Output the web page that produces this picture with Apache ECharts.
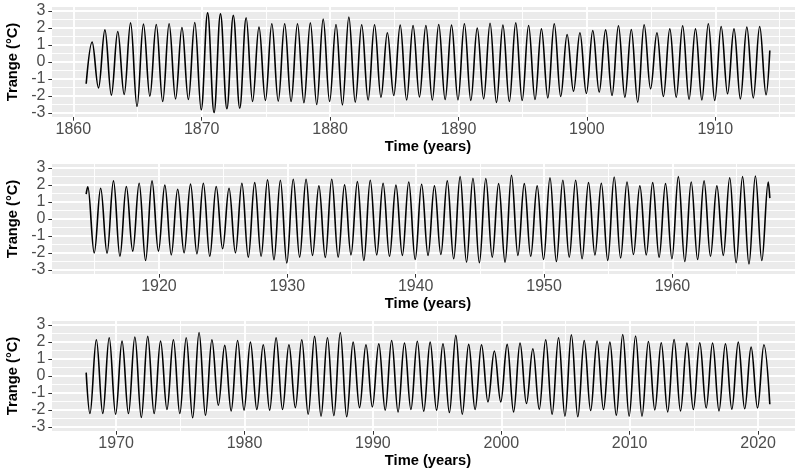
<!DOCTYPE html>
<html>
<head>
<meta charset="utf-8">
<script src="https://cdn.jsdelivr.net/npm/echarts@6/dist/echarts.min.js"></script>
<style>
  html, body { margin: 0; padding: 0; background: #ffffff; }
  #chart { width: 795px; height: 472px; }
</style>
</head>
<body>
<div id="chart"></div>
<script>
// Seasonal cycle of the temperature range: yearly maximum and minimum of the cycle.
const FIRST_YEAR = 1861;
// Fraction of the year at which the seasonal maximum / minimum occurs
const PEAK_PHASE = 0.46;
const TROUGH_PHASE = 0.96;

// Seasonal maxima, 1861-2020 (°C)
const peaks = [
  1.17, 1.89, 1.79, 2.30, 2.23, 2.21, 2.25, 2.03, 2.32, 2.89,
  2.83, 2.74, 2.60, 2.05, 2.25, 2.25, 2.25, 2.30, 2.52, 2.21,
  2.64, 2.19, 2.19, 1.72, 2.17, 2.15, 2.15, 2.21, 2.17, 2.25,
  1.99, 2.28, 2.17, 2.30, 2.15, 1.95, 2.25, 1.62, 1.72, 1.85,
  1.89, 2.13, 1.91, 2.19, 1.72, 1.95, 2.13, 1.95, 2.25, 2.09,
  1.95, 2.05, 2.09, 1.89, 1.81, 2.24, 1.91, 2.10, 2.24, 1.99,
  1.75, 2.05, 2.10, 1.91, 1.81, 2.10, 2.14, 2.30, 2.28, 2.34,
  2.34, 1.95, 2.34, 2.01, 2.20, 2.28, 2.10, 1.99, 2.18, 2.04,
  1.95, 2.24, 2.49, 2.40, 2.38, 2.08, 2.57, 2.08, 1.95, 2.43,
  2.28, 2.28, 2.14, 2.10, 2.47, 2.18, 1.95, 2.14, 2.08, 2.49,
  2.18, 2.24, 1.95, 2.43, 2.49, 2.53, 2.18, 2.13, 2.25, 2.05,
  2.29, 2.33, 2.05, 2.13, 2.25, 2.56, 2.13, 1.80, 2.09, 1.99,
  1.84, 2.25, 1.84, 2.13, 2.33, 2.25, 2.56, 1.99, 1.84, 1.90,
  2.09, 1.94, 2.04, 1.99, 1.90, 2.39, 1.86, 1.84, 1.47, 1.86,
  1.94, 1.60, 2.13, 2.25, 2.43, 2.09, 2.05, 1.99, 2.44, 2.35,
  2.03, 1.96, 2.15, 1.94, 1.96, 1.94, 1.90, 1.99, 1.70, 1.84
];

// Seasonal minima at the turn of each year, 1861/62 - 2019/20 (°C)
const troughs = [
  -1.52, -1.95, -1.91, -2.62, -2.01, -2.32, -2.17, -2.21, -2.81, -2.97,
  -2.75, -2.72, -2.32, -2.26, -2.30, -2.32, -2.40, -2.50, -2.32, -2.52,
  -2.36, -2.23, -2.07, -1.97, -2.23, -2.05, -2.23, -2.21, -2.23, -2.26,
  -2.17, -2.38, -2.32, -2.26, -2.21, -2.11, -2.03, -1.72, -1.85, -1.77,
  -1.97, -2.07, -2.36, -1.58, -2.03, -2.07, -2.19, -2.23, -2.26, -1.87,
  -2.17, -2.11, -1.93, -1.99, -2.01, -2.19, -1.89, -2.44, -1.89, -2.11,
  -1.99, -2.05, -2.19, -1.75, -1.99, -2.24, -2.19, -2.40, -2.59, -2.24,
  -2.14, -2.26, -2.24, -2.11, -2.44, -2.11, -2.19, -2.14, -2.38, -2.14,
  -2.09, -2.34, -2.54, -2.57, -2.24, -2.54, -2.14, -2.19, -2.38, -2.50,
  -2.24, -2.34, -2.12, -2.44, -2.29, -2.09, -2.11, -2.24, -2.34, -2.50,
  -2.38, -2.19, -2.14, -2.57, -2.65, -2.44, -2.21, -2.21, -2.25, -2.21,
  -2.44, -2.21, -1.97, -2.21, -2.46, -2.31, -1.72, -2.05, -2.01, -1.97,
  -2.01, -1.97, -1.86, -2.25, -2.36, -2.33, -2.40, -1.86, -1.82, -2.01,
  -2.11, -1.97, -2.07, -2.01, -2.15, -2.25, -1.97, -1.52, -1.52, -2.11,
  -1.62, -1.95, -2.25, -2.36, -2.40, -2.03, -1.97, -2.31, -2.36, -2.36,
  -1.99, -2.11, -2.05, -1.97, -1.88, -2.05, -1.95, -1.93, -1.88
];

// The record is split into three panels; first and last month of each
const panelStart = [1861.0, 1914.333, 1967.667];
const panelEnd = [1914.25, 1967.583, 2020.917];
const startValues = [-1.28, 1.46, 0.20];
const endValues = [0.68, 1.23, -1.66];

// Tick values
const xMajorTicks = [
  [1860, 1870, 1880, 1890, 1900, 1910],
  [1920, 1930, 1940, 1950, 1960],
  [1970, 1980, 1990, 2000, 2010, 2020]
];
const xMinorTicks = [
  [1865, 1875, 1885, 1895, 1905, 1915],
  [1915, 1925, 1935, 1945, 1955, 1965],
  [1975, 1985, 1995, 2005, 2015]
];
const yMajorTicks = [-3, -2, -1, 0, 1, 2, 3];
const yMinorTicks = [-2.5, -1.5, -0.5, 0.5, 1.5, 2.5];

const xTitle = 'Time (years)';
const yTitle = 'Trange (°C)';

// ---- build ----
const extremes = [];
peaks.forEach((v, i) => extremes.push([FIRST_YEAR + i + PEAK_PHASE, v]));
troughs.forEach((v, i) => extremes.push([FIRST_YEAR + i + TROUGH_PHASE, v]));
extremes.sort((a, b) => a[0] - b[0]);

function panelData(p) {
  const pts = [[panelStart[p], startValues[p]]];
  extremes.forEach(d => {
    if (d[0] > panelStart[p] && d[0] < panelEnd[p]) pts.push(d);
  });
  pts.push([panelEnd[p], endValues[p]]);
  return pts;
}

const FONT = 'Liberation Sans, Arial, Helvetica, sans-serif';
const PANEL_TOP = [7, 164, 321];
const PANEL_LEFT = 52;
const PANEL_W = 752;
const PANEL_H = 110;
const Y_LIMIT = 3.235;

const grid = [], xAxis = [], yAxis = [], series = [];

for (let p = 0; p < 3; p++) {
  const span = panelEnd[p] - panelStart[p];
  const xMin = panelStart[p] - 0.05 * span;
  const xMax = panelEnd[p] + 0.05 * span;

  grid.push({
    left: PANEL_LEFT, top: PANEL_TOP[p], width: PANEL_W, height: PANEL_H,
    show: true, backgroundColor: '#EBEBEB', borderWidth: 0, borderColor: 'transparent',
    containLabel: false, outerBoundsMode: 'none'
  });

  // major x axis: labels, ticks, major grid lines
  xAxis.push({
    type: 'value', gridIndex: p, min: xMin, max: xMax, position: 'bottom',
    axisLine: { show: false, onZero: false },
    axisTick: { show: true, length: 3.7, customValues: xMajorTicks[p],
      lineStyle: { color: '#333333', width: 1 } },
    axisLabel: { show: true, customValues: xMajorTicks[p], formatter: v => String(v),
      color: '#4D4D4D', fontSize: 16, fontFamily: FONT, margin: 5 },
    splitLine: { show: true, lineStyle: { color: '#FFFFFF', width: 1.9 } },
    name: xTitle, nameLocation: 'middle', nameGap: 22,
    nameTextStyle: { color: '#000000', fontSize: 14.7, fontWeight: 'bold', fontFamily: FONT }
  });
  // minor x grid lines
  xAxis.push({
    type: 'value', gridIndex: p, min: xMin, max: xMax, position: 'bottom',
    axisLine: { show: false, onZero: false },
    axisTick: { show: false, customValues: xMinorTicks[p] },
    axisLabel: { show: false },
    splitLine: { show: true, lineStyle: { color: '#FFFFFF', width: 0.95 } }
  });

  // major y axis
  yAxis.push({
    type: 'value', gridIndex: p, min: -Y_LIMIT, max: Y_LIMIT, position: 'left',
    axisLine: { show: false, onZero: false },
    axisTick: { show: true, length: 3.7, customValues: yMajorTicks,
      lineStyle: { color: '#333333', width: 1 } },
    axisLabel: { show: true, customValues: yMajorTicks, formatter: v => String(v),
      color: '#4D4D4D', fontSize: 16, fontFamily: FONT, margin: 6.6 },
    splitLine: { show: true, lineStyle: { color: '#FFFFFF', width: 1.9 } },
    name: yTitle, nameLocation: 'middle', nameGap: 25, nameRotate: 90,
    nameTextStyle: { color: '#000000', fontSize: 14.7, fontWeight: 'bold', fontFamily: FONT }
  });
  // minor y grid lines
  yAxis.push({
    type: 'value', gridIndex: p, min: -Y_LIMIT, max: Y_LIMIT, position: 'left',
    axisLine: { show: false, onZero: false },
    axisTick: { show: false, customValues: yMinorTicks },
    axisLabel: { show: false },
    splitLine: { show: true, lineStyle: { color: '#FFFFFF', width: 0.95 } }
  });

  series.push({
    type: 'line', xAxisIndex: 2 * p, yAxisIndex: 2 * p,
    data: panelData(p),
    showSymbol: false, symbol: 'none',
    smooth: 0.38, smoothMonotone: 'x',
    lineStyle: { color: '#000000', width: 1.6 },
    silent: true, z: 5
  });
}

const chart = echarts.init(document.getElementById('chart'), null, { renderer: 'canvas' });
chart.setOption({
  animation: false,
  backgroundColor: '#FFFFFF',
  textStyle: { fontFamily: FONT },
  grid, xAxis, yAxis, series
});
</script>
</body>
</html>
